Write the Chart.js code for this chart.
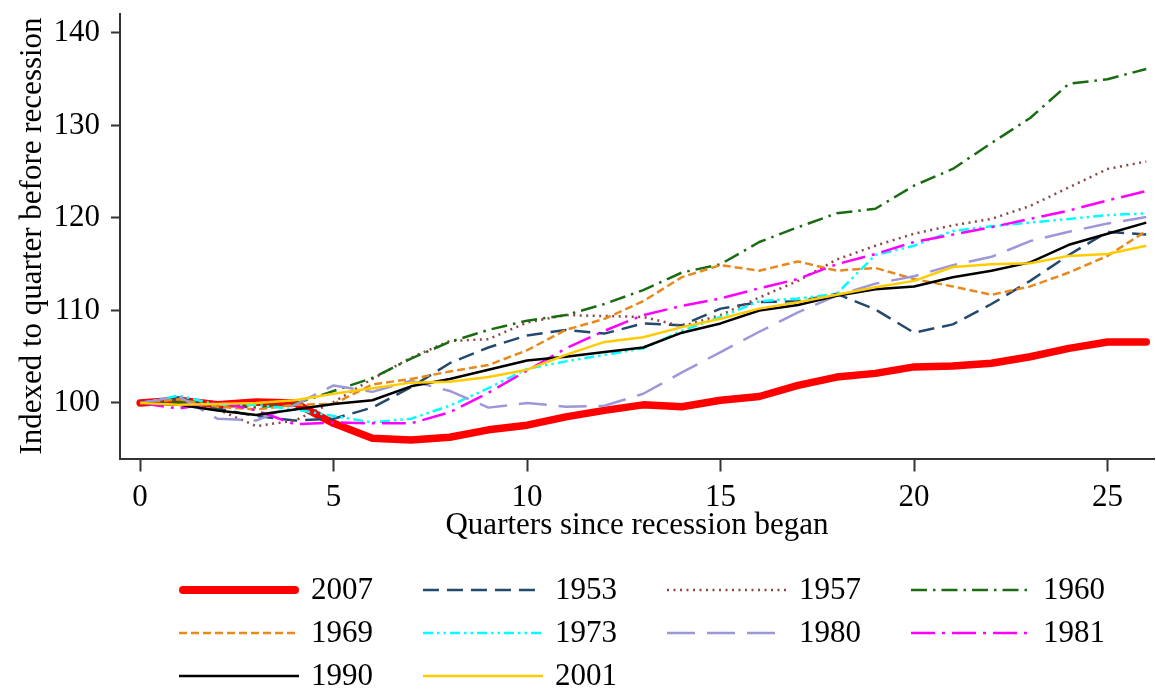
<!DOCTYPE html>
<html>
<head>
<meta charset="utf-8">
<script src="https://cdn.jsdelivr.net/npm/chart.js@4/dist/chart.umd.min.js"></script>
<style>
  html, body { margin: 0; padding: 0; background: #ffffff; }
  #wrap { width: 1156px; height: 689px; position: relative; }
</style>
</head>
<body>
<div id="wrap"><canvas id="c" width="1156" height="689"></canvas></div>
<script>
// ---- data ----
const quarters = [0,1,2,3,4,5,6,7,8,9,10,11,12,13,14,15,16,17,18,19,20,21,22,23,24,25,26];
const xTicks = [0,5,10,15,20,25];
const yTicks = [100,110,120,130,140];

const s2007 = [100,100.3,99.8,100.1,100.0,97.8,96.2,96.0,96.3,97.1,97.6,98.5,99.2,99.8,99.6,100.3,100.7,101.9,102.8,103.2,103.9,104.0,104.3,105.0,105.9,106.6,106.6];
const s1953 = [100,100.6,99.4,98.6,98.1,98.3,99.5,101.7,104.3,106.0,107.3,107.9,107.5,108.6,108.4,110.2,110.9,111.0,111.8,110.1,107.6,108.5,110.7,113.2,116.0,118.5,118.2];
const s1957 = [100,100.2,99.3,97.5,98.1,100.1,102.6,104.9,106.7,106.9,108.7,109.5,109.4,109.3,108.3,109.5,111.4,113.2,115.5,117.0,118.3,119.2,119.9,121.3,123.3,125.3,126.1];
const s1960 = [100,100.1,99.8,99.5,99.9,101.3,102.7,104.8,106.6,107.9,108.9,109.5,110.7,112.2,114.1,115.0,117.4,119.0,120.5,121.0,123.5,125.3,128.1,130.8,134.5,135.0,136.1];
const s1969 = [100,100.4,99.6,99.3,99.8,99.9,102.0,102.6,103.4,104.1,105.7,107.9,109.1,111.0,113.6,114.9,114.3,115.3,114.3,114.6,113.4,112.6,111.7,112.6,114.1,115.9,118.6];
const s1973 = [100,100.8,99.8,99.8,99.3,98.6,97.9,98.3,99.7,101.6,103.7,104.5,105.2,105.9,107.8,109.3,111.0,111.3,111.8,116.0,117.0,118.6,119.1,119.5,119.9,120.3,120.5];
const s1980 = [100,100.7,98.3,98.1,99.8,101.9,101.2,102.4,101.3,99.5,100.0,99.6,99.7,101.0,103.3,105.5,107.7,109.8,111.6,112.9,113.7,114.9,115.8,117.5,118.5,119.4,120.1];
const s1981 = [100,99.4,100.1,99.2,97.7,97.9,97.8,97.8,99.0,101.1,103.5,105.9,107.8,109.5,110.5,111.3,112.4,113.4,115.0,116.1,117.4,118.2,119.0,119.9,120.8,121.9,122.9];
const s1990 = [100,99.8,99.2,98.7,99.3,99.9,100.3,101.8,102.6,103.6,104.6,105.0,105.5,106.0,107.6,108.6,110.0,110.6,111.6,112.3,112.6,113.6,114.3,115.2,117.1,118.3,119.5];
const s2001 = [100,99.8,99.9,100.0,100.3,101.0,101.6,102.2,102.3,102.8,103.6,105.2,106.6,107.1,108.2,109.1,110.2,110.9,111.7,112.5,113.2,114.7,115.0,115.1,115.9,116.1,117.0];

const seriesNames = ['2007','1953','1957','1960','1969','1973','1980','1981','1990','2001'];
const seriesValues = [s2007,s1953,s1957,s1960,s1969,s1973,s1980,s1981,s1990,s2001];

// ---- styles ----
const styles = [
  { color: '#ff0000', width: 7.5, dash: [] , cap: 'round'},
  { color: '#234a6e', width: 2.5, dash: [16, 8] },
  { color: '#8c4646', width: 2.5, dash: [2, 4.5] },
  { color: '#1a6b12', width: 2.5, dash: [16, 6, 2.5, 6] },
  { color: '#e8891d', width: 2.5, dash: [8, 4] },
  { color: '#00ffff', width: 2.5, dash: [10, 4, 2.5, 4, 2.5, 4] },
  { color: '#9d97d9', width: 2.5, dash: [28, 12] },
  { color: '#ff00ff', width: 2.5, dash: [24, 7, 3, 7] },
  { color: '#000000', width: 2.5, dash: [] },
  { color: '#ffcc00', width: 2.5, dash: [] }
];

const FONT = "'Liberation Serif', 'Times New Roman', serif";
const FS = 31;

const datasets = seriesNames.map((name, i) => ({
  label: name,
  data: quarters.map((q, j) => ({ x: q, y: seriesValues[i][j] })),
  borderColor: styles[i].color,
  backgroundColor: styles[i].color,
  borderWidth: styles[i].width,
  borderDash: styles[i].dash,
  borderCapStyle: styles[i].cap || 'butt',
  borderJoinStyle: 'round',
  pointRadius: 0,
  tension: 0,
  fill: false,
  order: i === 0 ? 100 : (50 - i)
}));

const legendPlugin = {
  id: 'customLegend',
  afterDraw(chart) {
    const ctx = chart.ctx;
    const colStart = 179, colStep = 244, rowStart = 590, rowStep = 43, lineLen = 120;
    ctx.save();
    chart.data.datasets.forEach((ds, i) => {
      const col = i % 4, row = Math.floor(i / 4);
      const x0 = colStart + col * colStep;
      const y = rowStart + row * rowStep;
      ctx.beginPath();
      ctx.strokeStyle = ds.borderColor;
      ctx.lineWidth = i === 0 ? 8 : ds.borderWidth;
      ctx.lineCap = i === 0 ? 'round' : 'butt';
      ctx.setLineDash(ds.borderDash || []);
      ctx.moveTo(x0 + (i === 0 ? 4 : 0), y);
      ctx.lineTo(x0 + lineLen - (i === 0 ? 4 : 0), y);
      ctx.stroke();
      ctx.setLineDash([]);
      ctx.fillStyle = '#000';
      ctx.font = FS + 'px ' + FONT;
      ctx.textBaseline = 'middle';
      ctx.textAlign = 'left';
      ctx.fillText(ds.label, x0 + lineLen + 12, y + 1);
    });
    ctx.restore();
  }
};

new Chart(document.getElementById('c'), {
  type: 'line',
  data: { datasets },
  plugins: [legendPlugin],
  options: {
    responsive: false,
    animation: false,
    devicePixelRatio: 1,
    layout: { padding: { top: 13.5, right: 2, left: 0, bottom: 140.5 } },
    plugins: { legend: { display: false }, tooltip: { enabled: false } },
    scales: {
      x: {
        type: 'linear',
        min: -0.52,
        max: 26.2,
        afterFit(s) { s.height = 90; s.paddingLeft = 0; s.paddingRight = 0; },
        afterBuildTicks(s) { s.ticks = xTicks.map(v => ({ value: v })); },
        grid: { display: true, drawOnChartArea: false, drawTicks: true, tickLength: 13, tickWidth: 2, tickColor: '#333' },
        border: { display: true, color: '#333', width: 2 },
        ticks: { color: '#000', font: { family: FONT, size: FS }, padding: 8, maxRotation: 0 },
        title: { display: true, text: 'Quarters since recession began', color: '#000', font: { family: FONT, size: FS, lineHeight: 1.2 }, padding: { top: 0, bottom: 4 } }
      },
      y: {
        type: 'linear',
        min: 94.0,
        max: 142.1,
        afterFit(s) { s.width = 120; s.paddingTop = 0; s.paddingBottom = 0; },
        afterBuildTicks(s) { s.ticks = yTicks.map(v => ({ value: v })); },
        grid: { display: true, drawOnChartArea: false, drawTicks: true, tickLength: 9, tickWidth: 2, tickColor: '#333' },
        border: { display: true, color: '#333', width: 2 },
        ticks: { color: '#000', font: { family: FONT, size: FS }, padding: 11 },
        title: { display: true, text: 'Indexed to quarter before recession', color: '#000', font: { family: FONT, size: FS, lineHeight: 1.2 }, padding: { top: 14, bottom: 0 } }
      }
    }
  }
});
</script>
</body>
</html>
